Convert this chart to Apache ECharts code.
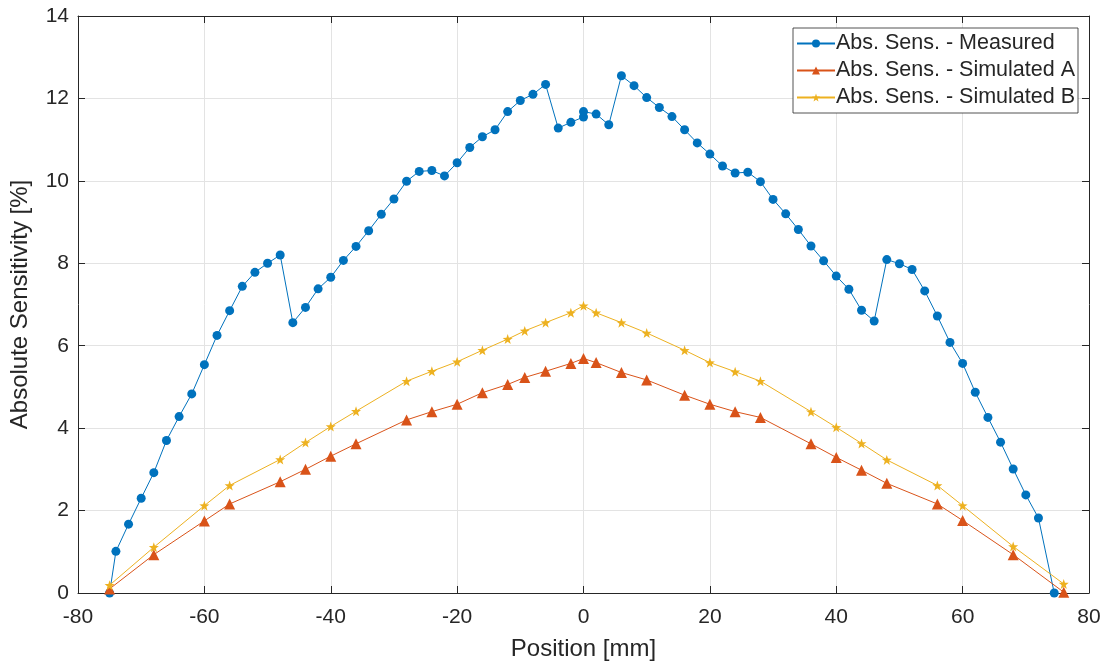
<!DOCTYPE html>
<html>
<head>
<meta charset="utf-8">
<script src="https://cdn.jsdelivr.net/npm/echarts@6/dist/echarts.min.js"></script>
<style>html,body{margin:0;padding:0;background:#fff;}#chart{width:1107px;height:666px;}</style>
</head>
<body>
<div id="chart"></div>
<script>
const seriesNames = ['Abs. Sens. - Measured', 'Abs. Sens. - Simulated A', 'Abs. Sens. - Simulated B'];
const xTicks = [-80, -60, -40, -20, 0, 20, 40, 60, 80];
const yTicks = [0, 2, 4, 6, 8, 10, 12, 14];

const measuredX = [-75, -74, -72, -70, -68, -66, -64, -62, -60, -58, -56, -54, -52, -50, -48, -46, -44, -42, -40, -38,
  -36, -34, -32, -30, -28, -26, -24, -22, -20, -18, -16, -14, -12, -10, -8, -6, -4, -2, 0, 0,
  2, 4, 6, 8, 10, 12, 14, 16, 18, 20, 22, 24, 26, 28, 30, 32, 34, 36, 38, 40,
  42, 44, 46, 48, 50, 52, 54, 56, 58, 60, 62, 64, 66, 68, 70, 72, 74.5];
const measuredY = [0, 1.01, 1.67, 2.30, 2.92, 3.70, 4.28, 4.83, 5.54, 6.25, 6.85, 7.44, 7.78, 8.00, 8.20, 6.56, 6.93, 7.38, 7.66, 8.07,
  8.41, 8.79, 9.19, 9.56, 9.99, 10.23, 10.25, 10.12, 10.44, 10.81, 11.07, 11.24, 11.68, 11.95, 12.10, 12.34, 11.28, 11.42, 11.55, 11.68,
  11.62, 11.36, 12.55, 12.31, 12.02, 11.78, 11.56, 11.24, 10.92, 10.65, 10.36, 10.19, 10.21, 9.98, 9.55, 9.20, 8.82, 8.42, 8.06, 7.69,
  7.37, 6.86, 6.60, 8.09, 7.99, 7.85, 7.33, 6.72, 6.08, 5.57, 4.87, 4.26, 3.66, 3.01, 2.38, 1.82, 0];

const simX = [-75, -68, -60, -56, -48, -44, -40, -36, -28, -24, -20, -16, -12, -9.3, -6, -2, 0,
  2, 6, 10, 16, 20, 24, 28, 36, 40, 44, 48, 56, 60, 68, 76];
const simAY = [0.10, 0.93, 1.75, 2.16, 2.70, 3.00, 3.32, 3.62, 4.20, 4.40, 4.58, 4.86, 5.06, 5.23, 5.38, 5.57, 5.69,
  5.59, 5.35, 5.17, 4.80, 4.58, 4.40, 4.26, 3.62, 3.29, 2.98, 2.66, 2.16, 1.76, 0.93, 0.02];
const simBY = [0.19, 1.11, 2.12, 2.61, 3.24, 3.65, 4.04, 4.41, 5.14, 5.38, 5.61, 5.89, 6.16, 6.36, 6.56, 6.80, 6.97,
  6.80, 6.56, 6.31, 5.89, 5.59, 5.37, 5.14, 4.40, 4.02, 3.63, 3.23, 2.61, 2.12, 1.13, 0.22];

const zip = (xs, ys) => xs.map((x, i) => [x, ys[i]]);
const STAR = 'path://M0,-10L2.35,-3.24L9.51,-3.09L3.8,1.24L5.88,8.09L0,4L-5.88,8.09L-3.8,1.24L-9.51,-3.09L-2.35,-3.24Z';
const FONT = '"Liberation Sans", Arial, Helvetica, sans-serif';
const TXT = '#262626';
const GRIDC = '#e3e3e3';

const chart = echarts.init(document.getElementById('chart'), null, {renderer: 'canvas'});

const baseX = {
  type: 'value', min: xTicks[0], max: xTicks[xTicks.length - 1], interval: 20,
  axisLine: {show: true, onZero: false, lineStyle: {color: TXT, width: 1}},
  axisTick: {show: true, inside: true, length: 7, lineStyle: {color: TXT}},
  splitLine: {show: false},
};
const baseY = {
  type: 'value', min: yTicks[0], max: yTicks[yTicks.length - 1], interval: 2,
  axisLine: {show: true, onZero: false, lineStyle: {color: TXT, width: 1}},
  axisTick: {show: true, inside: true, length: 7, lineStyle: {color: TXT}},
  splitLine: {show: false},
};

chart.setOption({
  animation: false,
  backgroundColor: '#ffffff',
  grid: {left: 78, right: 18, top: 16, bottom: 72, containLabel: false},
  legend: {
    orient: 'vertical', right: 29, top: 28,
    padding: [3, 3, 3, 3], itemGap: 2,
    itemWidth: 38, itemHeight: 10,
    backgroundColor: '#ffffff', borderColor: '#262626', borderWidth: 0.8,
    textStyle: {fontFamily: FONT, fontSize: 21.5, color: TXT, lineHeight: 25, padding: [0, 0, 0, -4]},
    data: seriesNames
  },
  xAxis: [
    Object.assign({}, baseX, {
      position: 'bottom',
      name: 'Position [mm]', nameLocation: 'middle', nameGap: 44,
      nameTextStyle: {fontFamily: FONT, fontSize: 24, color: TXT},
      axisLabel: {fontFamily: FONT, fontSize: 21, color: TXT, margin: 14},
      splitLine: {show: true, lineStyle: {color: GRIDC, width: 1}}
    }),
    Object.assign({}, baseX, {position: 'top', axisLabel: {show: false}})
  ],
  yAxis: [
    Object.assign({}, baseY, {
      position: 'left',
      name: 'Absolute Sensitivity [%]', nameLocation: 'middle', nameGap: 46,
      nameTextStyle: {fontFamily: FONT, fontSize: 24, color: TXT},
      axisLabel: {fontFamily: FONT, fontSize: 21, color: TXT, margin: 9},
      splitLine: {show: true, lineStyle: {color: GRIDC, width: 1}}
    }),
    Object.assign({}, baseY, {position: 'right', axisLabel: {show: false}})
  ],
  series: [
    {
      name: seriesNames[0], type: 'line', data: zip(measuredX, measuredY),
      symbol: 'circle', symbolSize: 9,
      lineStyle: {color: '#0072BD', width: 1},
      itemStyle: {color: '#0072BD'}
    },
    {
      name: seriesNames[1], type: 'line', data: zip(simX, simAY),
      symbol: 'triangle', symbolSize: 11,
      lineStyle: {color: '#D95319', width: 1},
      itemStyle: {color: '#D95319'}
    },
    {
      name: seriesNames[2], type: 'line', data: zip(simX, simBY),
      symbol: STAR, symbolSize: 10,
      lineStyle: {color: '#EDB120', width: 1},
      itemStyle: {color: '#EDB120'}
    }
  ]
});
</script>
</body>
</html>
